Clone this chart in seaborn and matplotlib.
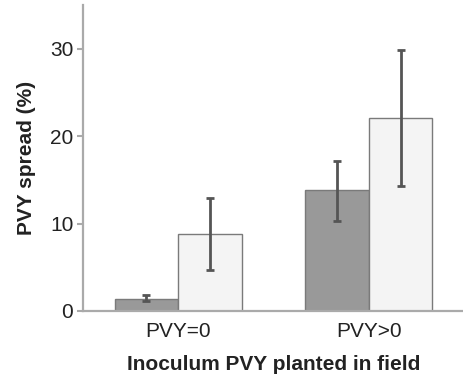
import matplotlib
matplotlib.use("Agg")
import matplotlib.pyplot as plt
import seaborn as sns
import pandas as pd
import numpy as np

categories = ["PVY=0", "PVY>0"]
series = ["Group 1", "Group 2"]
values = {"Group 1": [1.4, 13.8], "Group 2": [8.8, 22.1]}
err_low = {"Group 1": [1.1, 10.3], "Group 2": [4.7, 14.3]}
err_high = {"Group 1": [1.8, 17.2], "Group 2": [12.9, 29.9]}
colors = ["#999999", "#f4f4f4"]
yticks = [0, 10, 20, 30]

rows = []
for s in series:
    for c, v in zip(categories, values[s]):
        rows.append({"cat": c, "series": s, "val": v})
df = pd.DataFrame(rows)

sns.set_style("white")
plt.rcParams['font.family'] = ['Liberation Sans', 'DejaVu Sans']

fig = plt.figure(figsize=(4.64, 3.77), dpi=100)
ax = fig.add_axes([83/464, 1 - 311/377, 1 - 83/464, 306/377])

sns.barplot(data=df, x="cat", y="val", hue="series", palette=colors,
            width=0.667, gap=0, edgecolor="#7a7a7a", linewidth=1.0,
            ax=ax, legend=False, errorbar=None)

for s_i, s in enumerate(series):
    for c_i, c in enumerate(categories):
        xc = c_i + (s_i - 0.5) * 0.667 / 2
        v = values[s][c_i]
        lo = v - err_low[s][c_i]
        hi = err_high[s][c_i] - v
        ax.errorbar(xc, v, yerr=[[lo], [hi]], fmt="none", ecolor="#555555",
                    elinewidth=2, capsize=3, capthick=2)

ax.set_xlim(-0.5, 1.5)
ax.set_ylim(0, 35)
ax.set_yticks(yticks)
ax.set_xticks([0, 1])
ax.set_xticklabels(categories)
ax.set_xticks([-0.5, 0.5, 1.5], minor=True)
ax.tick_params(axis="x", which="major", length=0, labelsize=15, pad=8, colors="#222222")
ax.tick_params(axis="x", which="minor", length=4, width=1.5, color="#aaaaaa", direction="out")
ax.tick_params(axis="y", length=4, width=1.5, color="#aaaaaa", labelsize=15, labelcolor="#222222", left=True, pad=3)

for side in ["top", "right"]:
    ax.spines[side].set_visible(False)
for side in ["left", "bottom"]:
    ax.spines[side].set_color("#aaaaaa")
    ax.spines[side].set_linewidth(1.6)

ax.set_xlabel("Inoculum PVY planted in field", fontsize=15, fontweight="bold", labelpad=10, color="#222222")
ax.set_ylabel("PVY spread (%)", fontsize=15, fontweight="bold", labelpad=10, color="#222222")

fig.savefig("out.png", dpi=100)
